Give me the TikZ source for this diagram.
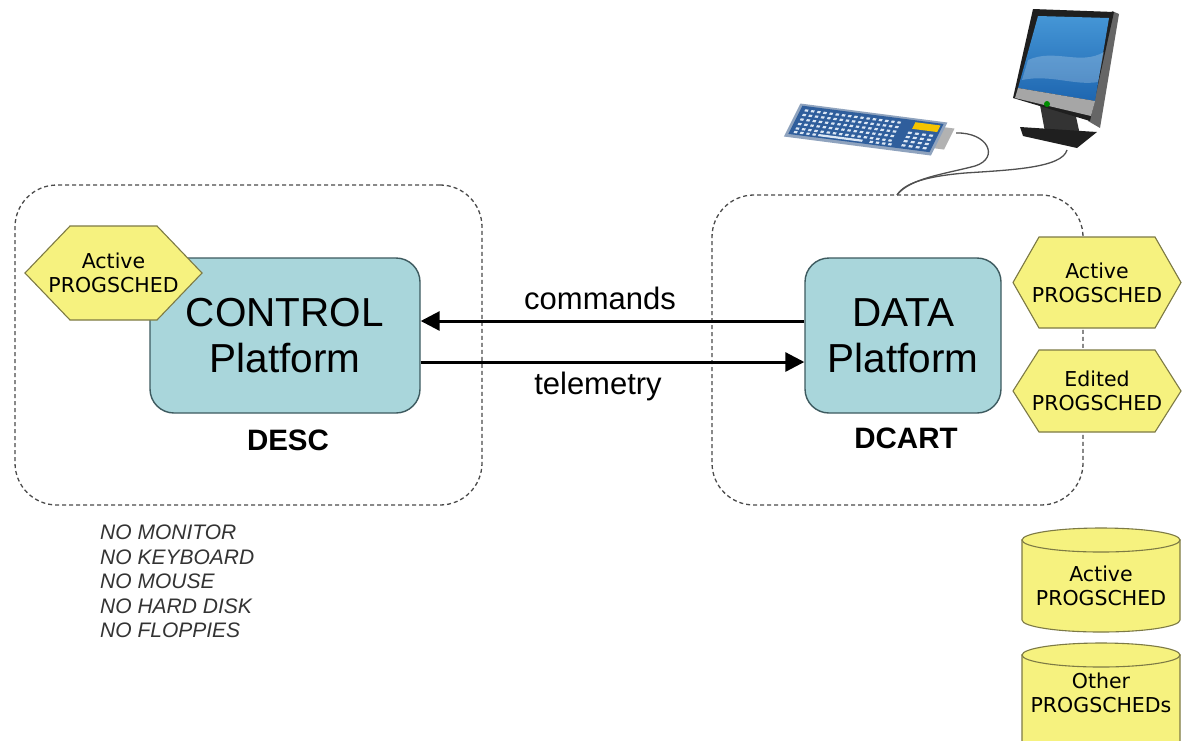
\documentclass[tikz,border=0pt]{standalone}
\usepackage{fontspec}
\setmainfont{Liberation Sans}
\newfontfamily\hexfont{DejaVu Sans}
\usetikzlibrary{arrows.meta,calc}

\definecolor{platfill}{HTML}{A9D6DB}
\definecolor{platdraw}{HTML}{3D5A5F}
\definecolor{schedfill}{HTML}{F6F27F}
\definecolor{scheddraw}{HTML}{7D7A45}
\definecolor{dashgray}{HTML}{4A4A4A}
\definecolor{kbblue}{HTML}{2F5E9C}
\definecolor{kbrim}{HTML}{8FA3BE}
\definecolor{kbkey}{HTML}{DCE7F4}
\definecolor{kbyellow}{HTML}{F5C400}
\definecolor{cablegray}{HTML}{505050}
\definecolor{notegray}{HTML}{333333}
\definecolor{screentop}{HTML}{4596D6}
\definecolor{screenbot}{HTML}{1E66B0}

\tikzset{
  dashbox/.style={draw=dashgray, line width=1.3pt, dash pattern=on 4pt off 3pt,
    rounded corners=42pt, inner sep=0pt},
  platform/.style={draw=platdraw, fill=platfill, line width=1.4pt, rounded corners=24pt,
    align=center, inner sep=0pt, font=\fontsize{40.5}{46}\selectfont},
  sched/.style={draw=scheddraw, fill=schedfill, line width=1.1pt},
  schedtext/.style={align=center, inner sep=0pt, font=\hexfont\fontsize{20.5}{24}\selectfont},
  hostlabel/.style={font=\bfseries\fontsize{29.5}{34}\selectfont, inner sep=0pt},
  linklabel/.style={font=\fontsize{31}{36}\selectfont, inner sep=0pt},
  flow/.style={line width=3pt, -{Triangle[length=19pt,width=19pt]}},
  cable/.style={draw=cablegray, line width=1.3pt},
}

% hexagon: name, centre x, centre y, half width, half height, tip depth, text
\newcommand\schedhex[7]{%
  \filldraw[sched] (#2-#4,#3) -- (#2-#4+#6,#3-#5) -- (#2+#4-#6,#3-#5) -- (#2+#4,#3)
    -- (#2+#4-#6,#3+#5) -- (#2-#4+#6,#3+#5) -- cycle;
  \node[schedtext] (#1) at (#2,#3) {#7};}

% cylinder: name, centre x, half width, top ellipse y, bottom ellipse y, text centre y, text
\newcommand\schedcyl[7]{%
  \filldraw[sched] (#2-#3,#4) -- (#2-#3,#5)
    arc[start angle=180, end angle=0, x radius=#3, y radius=12] -- (#2+#3,#4) -- cycle;
  \filldraw[sched] (#2,#4) ellipse [x radius=#3, y radius=12];
  \node[schedtext] (#1) at (#2,#6) {#7};}

% parallelogram patch in the keyboard's own axes: x, y, width, depth
\newcommand\kbpatch[5][kbkey]{%
  \fill[#1] (#2,#3) -- ++(#4,0) -- ++(0,#5) -- ++(-#4,0) -- cycle;}

\begin{document}
\begin{tikzpicture}[x=1pt,y=-1pt]
\clip (0,0) rectangle (1185,740);
\fill[white] (0,0) rectangle (1185,740);

% host enclosures
\node[dashbox, minimum width=467pt, minimum height=320pt] (descbox) at (248.5,345) {};
\node[dashbox, minimum width=371pt, minimum height=310pt] (dcartbox) at (897.5,350) {};

% platforms
\node[platform, minimum width=270pt, minimum height=155pt] (control) at (285,335.5) {CONTROL\\Platform};
\node[platform, minimum width=196pt, minimum height=155pt] (data) at (903,335.5) {DATA\\Platform};

\node[hostlabel] (desc) at (288,440) {DESC};
\node[hostlabel] (dcart) at (906,438) {DCART};

% links between the platforms
\coordinate (cmdy) at (0,321);
\coordinate (tely) at (0,362);
\draw[flow] (data.west |- cmdy) -- (control.east |- cmdy);
\draw[flow] (control.east |- tely) -- (data.west |- tely);
\node[linklabel] (cmdlabel) at (600,298) {commands};
\node[linklabel] (tellabel) at (598,386) {telemetry};

% schedules
\schedhex{ctrlsched}{113.5}{273}{88.5}{47}{45}{Active\\PROGSCHED}
\schedhex{activesched}{1097}{282.5}{84}{45.5}{26}{Active\\PROGSCHED}
\schedhex{editedsched}{1097}{391}{84}{41}{26}{Edited\\PROGSCHED}
\schedcyl{activedb}{1101}{79}{540}{620}{585.5}{Active\\PROGSCHED}
\schedcyl{otherdb}{1101}{79}{655}{800}{692.5}{Other\\PROGSCHEDs}

% missing peripherals
\node[anchor=north west, align=left, inner sep=0pt, text=notegray,
  font=\itshape\fontsize{21}{24.5}\selectfont] (nolist) at (100,525)
  {NO MONITOR\\NO KEYBOARD\\NO MOUSE\\NO HARD DISK\\NO FLOPPIES};

% cables
\coordinate (kbplug) at (956,133);
\coordinate (monplug) at (1067,150);
\coordinate (boxjoin) at (897,195);
\draw[cable] (kbplug) .. controls (988,132) and (1000,158) .. (975,166)
  .. controls (945,174) and (910,178) .. (boxjoin);
\draw[cable] (monplug) .. controls (1062,168) and (1010,170) .. (965,173)
  .. controls (930,176) and (905,182) .. (boxjoin);

% keyboard, drawn in its own slanted axes
\begin{scope}[shift={(802,105)}, x={(147pt,-19pt)}, y={(-15pt,-30pt)}]
  \kbpatch[gray!60]{0.95}{0.12}{0.1}{0.7}
  \kbpatch[kbrim]{-0.015}{-0.04}{1.0}{1.1}
  \kbpatch[kbblue]{0.005}{0.02}{0.96}{0.94}
  \foreach \j in {0,...,4}{
    \foreach \i in {0,...,15}{
      \kbpatch{0.035+\i*0.042}{0.12+\j*0.15}{0.022}{0.07}
    }
  }
  \kbpatch{0.2}{0.84}{0.3}{0.07}
  \foreach \i in {0,...,3}{
    \kbpatch{0.035+\i*0.042}{0.84}{0.022}{0.07}
  }
  \foreach \i in {0,...,3}{
    \kbpatch{0.55+\i*0.042}{0.84}{0.022}{0.07}
  }
  \kbpatch[kbyellow]{0.78}{0.08}{0.17}{0.22}
  \foreach \i in {0,...,3}{
    \foreach \j in {0,...,3}{
      \kbpatch{0.765+\i*0.048}{0.4+\j*0.14}{0.026}{0.07}
    }
  }
\end{scope}

% monitor
\fill[black!80] (1040,105) -- (1075,112) -- (1080,135) -- (1045,132) -- cycle;
\fill[black!88] (1020,127) -- (1097,132) -- (1077,148) -- (1023,136) -- cycle;
\fill[black!60] (1112,11) -- (1119,14) -- (1100,128) -- (1088,121) -- cycle;
\fill[black!88] (1033,9) -- (1114,12) -- (1090,121) -- (1013,98) -- cycle;
\shade[top color=screentop, bottom color=screenbot]
  (1038,16) -- (1109,18) -- (1095,101) -- (1018,88) -- cycle;
\fill[white, opacity=0.22] (1028,60) .. controls (1055,48) and (1080,66) .. (1104,52)
  -- (1098,82) .. controls (1075,86) and (1050,74) .. (1022,80) -- cycle;
\fill[black!35] (1018,88) -- (1095,101) -- (1091,116) -- (1015,98) -- cycle;
\fill[green!55!black] (1047,104) circle[radius=3];
\end{tikzpicture}
\end{document}
